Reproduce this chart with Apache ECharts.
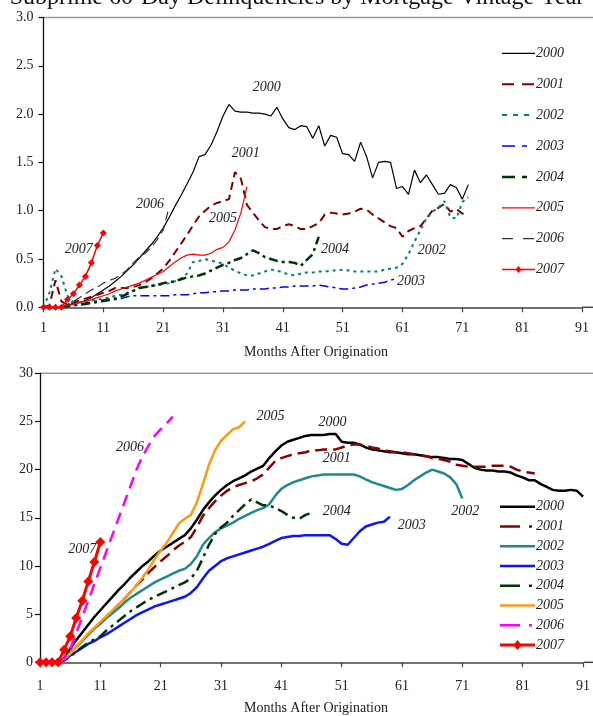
<!DOCTYPE html>
<html>
<head>
<meta charset="utf-8">
<script src="https://cdn.jsdelivr.net/npm/echarts@6/dist/echarts.min.js"></script>
<style>
html,body{margin:0;padding:0;background:#fff;width:593px;height:716px;overflow:hidden;}
#top{position:absolute;left:0;top:0;width:593px;height:360px;}
#bot{position:absolute;left:0;top:360px;width:593px;height:356px;}
</style>
</head>
<body>
<div id="top"></div>
<div id="bot"></div>
<script>
// ---------- data ----------
const TITLE = 'Subprime 60-Day Delinquencies by Mortgage Vintage Year';
const X_NAME = 'Months After Origination';
const YEARS = ['2000','2001','2002','2003','2004','2005','2006','2007'];

// top chart (values start at the given month)
const TOP_2000_START = 4;
const TOP_2000 = [0,0.02,0.04,0.05,0.07,0.10,0.14,0.18,0.22,0.27,0.32,0.38,0.44,0.51,0.58,0.65,0.73,0.82,0.93,1.05,1.16,1.28,1.40,1.56,1.58,1.68,1.82,1.98,2.10,2.03,2.02,2.02,2.01,2.01,2.00,1.98,2.07,1.95,1.86,1.84,1.88,1.87,1.75,1.88,1.67,1.78,1.76,1.59,1.58,1.51,1.71,1.56,1.34,1.50,1.51,1.50,1.23,1.25,1.17,1.42,1.29,1.37,1.27,1.17,1.18,1.27,1.24,1.12,1.27];
const TOP_2001_START = 1;
const TOP_2001 = [0,0.02,0.28,0.06,0.03,0.05,0.07,0.09,0.11,0.13,0.15,0.17,0.20,0.20,0.20,0.21,0.23,0.26,0.30,0.35,0.40,0.48,0.57,0.66,0.75,0.85,0.94,1.00,1.05,1.08,1.10,1.12,1.40,1.33,1.06,0.98,0.90,0.83,0.81,0.81,0.84,0.86,0.84,0.81,0.81,0.84,0.87,0.96,0.98,0.97,0.96,0.97,0.99,1.02,1.01,0.96,0.92,0.88,0.84,0.82,0.73,0.79,0.82,0.84,0.92,1.00,1.03,1.07,0.99,1.02,0.97,0.96];
const TOP_2002_START = 1;
const TOP_2002 = [0,0.15,0.40,0.32,0.12,0.05,0.05,0.06,0.07,0.08,0.09,0.10,0.12,0.13,0.15,0.17,0.20,0.21,0.22,0.23,0.24,0.25,0.27,0.30,0.35,0.47,0.48,0.50,0.48,0.47,0.45,0.41,0.38,0.35,0.33,0.33,0.35,0.37,0.39,0.38,0.36,0.34,0.33,0.35,0.36,0.36,0.37,0.37,0.38,0.38,0.39,0.38,0.37,0.37,0.37,0.37,0.37,0.39,0.40,0.41,0.45,0.55,0.68,0.80,0.92,0.99,1.03,1.10,0.93,0.92,1.09,1.14];
const TOP_2003_START = 4;
const TOP_2003 = [0,0.01,0.02,0.02,0.03,0.04,0.05,0.06,0.07,0.08,0.09,0.11,0.12,0.12,0.12,0.12,0.12,0.12,0.12,0.13,0.13,0.13,0.14,0.15,0.15,0.16,0.16,0.17,0.17,0.18,0.18,0.18,0.19,0.19,0.19,0.20,0.20,0.21,0.21,0.22,0.22,0.22,0.22,0.23,0.22,0.21,0.20,0.19,0.19,0.20,0.21,0.23,0.24,0.25,0.26,0.28,0.30];
const TOP_2004_START = 4;
const TOP_2004 = [0,0.01,0.02,0.03,0.04,0.05,0.06,0.07,0.08,0.09,0.11,0.14,0.17,0.20,0.21,0.22,0.23,0.25,0.26,0.27,0.29,0.31,0.32,0.33,0.35,0.38,0.41,0.44,0.46,0.49,0.51,0.55,0.59,0.56,0.52,0.50,0.48,0.47,0.47,0.46,0.43,0.49,0.55,0.73];
const TOP_2005_START = 4;
const TOP_2005 = [0,0.02,0.03,0.05,0.06,0.08,0.10,0.12,0.14,0.17,0.19,0.21,0.23,0.25,0.28,0.31,0.34,0.37,0.42,0.47,0.51,0.54,0.55,0.54,0.54,0.56,0.60,0.62,0.68,0.80,0.98,1.25];
const TOP_2006_START = 4;
const TOP_2006 = [0,0.03,0.06,0.10,0.14,0.18,0.21,0.25,0.28,0.30,0.34,0.39,0.46,0.52,0.56,0.62,0.70,0.80,1.04];
const TOP_2007_START = 1;
const TOP_2007 = [0,0,0,0,0.08,0.14,0.23,0.32,0.46,0.64,0.77];
// top chart in-plot labels: month, value
const TOP_LABEL_MONTH = [38.3,34.8,65.9,62.4,49.7,31.0,18.8,6.9];
const TOP_LABEL_VALUE = [2.28,1.59,0.59,0.265,0.60,0.92,1.07,0.60];

// bottom chart
const BOT_2000_START = 4;
const BOT_2000 = [0,0.4,1.4,2.3,3.1,3.9,4.7,5.4,6.1,6.8,7.5,8.1,8.8,9.4,10.0,10.5,11.1,11.6,12.0,12.4,12.8,13.2,13.9,14.8,15.8,16.6,17.3,17.9,18.4,18.8,19.1,19.4,19.8,20.1,20.4,21.2,21.9,22.5,22.9,23.1,23.3,23.5,23.6,23.6,23.6,23.7,23.7,22.9,22.8,22.8,22.6,22.3,22.1,22.0,21.9,21.8,21.8,21.7,21.6,21.6,21.5,21.4,21.3,21.3,21.2,21.1,21.1,21.0,20.6,20.2,20.0,19.9,19.9,19.8,19.8,19.7,19.4,19.2,18.9,18.9,18.5,18.2,17.9,17.8,17.8,17.9,17.8,17.2];
const BOT_2001_START = 4;
const BOT_2001 = [0,0.4,1.0,1.6,2.2,2.9,3.5,4.1,4.7,5.3,6.0,6.6,7.3,8.0,8.6,9.3,9.9,10.5,11.0,11.6,12.1,12.5,13.0,14.0,15.2,16.0,16.7,17.3,17.8,18.2,18.4,18.6,18.8,19.1,19.5,20.2,20.9,21.2,21.4,21.6,21.7,21.8,22.0,22.0,22.1,22.1,22.1,22.3,22.5,22.6,22.6,22.5,22.3,22.2,22.0,21.9,21.8,21.8,21.7,21.6,21.5,21.4,21.2,21.1,21.0,20.8,20.5,20.4,20.3,20.3,20.3,20.3,20.4,20.4,20.4,20.3,20.0,19.8,19.7,19.6];
const BOT_2002_START = 4;
const BOT_2002 = [0,0.3,1.0,1.6,2.2,2.9,3.5,4.0,4.6,5.1,5.6,6.2,6.7,7.1,7.5,7.9,8.3,8.6,8.9,9.2,9.5,9.7,10.2,11.0,12.2,12.9,13.5,13.9,14.2,14.5,14.9,15.2,15.5,15.8,16.0,16.4,17.3,18.0,18.4,18.7,18.9,19.1,19.3,19.4,19.5,19.5,19.5,19.5,19.5,19.5,19.3,19.0,18.7,18.5,18.3,18.1,17.9,18.0,18.4,18.9,19.3,19.7,20.0,19.8,19.6,19.2,18.5,17.0];
const BOT_2003_START = 4;
const BOT_2003 = [0,0.2,0.7,1.1,1.5,1.9,2.2,2.6,2.9,3.3,3.7,4.1,4.5,4.9,5.2,5.5,5.8,6.0,6.2,6.4,6.6,6.8,7.2,7.8,8.7,9.5,10.0,10.5,10.8,11.0,11.2,11.4,11.6,11.8,12.0,12.3,12.6,12.9,13.0,13.1,13.1,13.2,13.2,13.2,13.2,13.2,12.8,12.3,12.2,12.9,13.6,14.1,14.3,14.5,14.6,15.1];
const BOT_2004_START = 4;
const BOT_2004 = [0,0.2,0.6,1.1,1.6,2.0,2.4,2.7,3.3,3.8,4.3,4.8,5.3,5.7,6.1,6.5,6.8,7.1,7.4,7.7,8.0,8.3,8.7,9.5,10.8,12.2,13.3,14.0,14.5,15.2,15.8,16.4,16.9,16.6,16.3,16.3,16.0,15.7,15.3,15.0,14.9,15.3,15.5];
const BOT_2005_START = 4;
const BOT_2005 = [0,0.3,0.9,1.6,2.3,3.0,3.6,4.2,4.8,5.4,6.0,6.6,7.3,8.0,8.8,9.7,10.7,11.6,12.4,13.4,14.4,14.9,15.3,16.6,18.5,20.5,22.0,23.0,23.6,24.2,24.4,25.0];
const BOT_2006_START = 4;
const BOT_2006 = [0,0.3,1.4,3.0,4.7,6.4,8.1,9.8,11.5,13.2,14.9,16.6,18.3,20.0,21.4,22.5,23.5,24.2,24.8,25.5];
const BOT_2007_START = 1;
const BOT_2007 = [0,0,0,0,1.3,2.7,4.6,6.4,8.4,10.4,12.5];
const BOT_LABEL_MONTH = [49.5,50.2,71.5,62.6,50.2,39.2,15.9,8.0];
const BOT_LABEL_VALUE = [24.9,21.2,15.7,14.25,15.7,25.5,22.3,11.7];

const X_MIN = 1, X_MAX = 91, X_STEP = 10;

// ---------- build ----------
function pairs(start, vals){ return vals.map((v,i)=>[start+i, v]); }
const SERIF = '"Liberation Serif","Times New Roman",serif';
const TOP_DATA = [
  pairs(TOP_2000_START, TOP_2000), pairs(TOP_2001_START, TOP_2001), pairs(TOP_2002_START, TOP_2002),
  pairs(TOP_2003_START, TOP_2003), pairs(TOP_2004_START, TOP_2004), pairs(TOP_2005_START, TOP_2005),
  pairs(TOP_2006_START, TOP_2006), pairs(TOP_2007_START, TOP_2007)];
const BOT_DATA = [
  pairs(BOT_2000_START, BOT_2000), pairs(BOT_2001_START, BOT_2001), pairs(BOT_2002_START, BOT_2002),
  pairs(BOT_2003_START, BOT_2003), pairs(BOT_2004_START, BOT_2004), pairs(BOT_2005_START, BOT_2005),
  pairs(BOT_2006_START, BOT_2006), pairs(BOT_2007_START, BOT_2007)];

const TOP_STYLE = [
  {color:'#000000', width:1.2, type:'solid', leg:null},
  {color:'#800000', width:2, type:[8,5], leg:[12,8]},
  {color:'#008080', width:2, type:[3,4], leg:[5,6]},
  {color:'#0000ff', width:1.5, type:[9,4,3,4], leg:[13,7,5,20]},
  {color:'#003300', width:2.5, type:[9,4,3,4], leg:[13,7,5,20]},
  {color:'#ff0000', width:1.2, type:'solid', leg:null},
  {color:'#333333', width:1.2, type:[9,5], leg:[11,10]},
  {color:'#ff0000', width:1.5, type:'solid', leg:null, symbol:'diamond', symbolSize:7}
];
const BOT_STYLE = [
  {color:'#000000', width:2.5, type:'solid', leg:null},
  {color:'#8b0000', width:2.5, type:[12,6], leg:[20,9,3,10]},
  {color:'#1f8a8a', width:2.5, type:'solid', leg:null},
  {color:'#0a14ff', width:2.5, type:'solid', leg:null},
  {color:'#003300', width:2.5, type:[11,5,3,5], leg:[20,9,3,10]},
  {color:'#ff9a10', width:2.5, type:'solid', leg:null},
  {color:'#ff00ff', width:2.5, type:[12,7], leg:[20,9,3,10]},
  {color:'#ff0000', width:3, type:'solid', leg:null, symbol:'diamond', symbolSize:10}
];

function makeSeries(data, styles){
  return data.map((d,i)=>{
    const s = styles[i];
    return {
      name: YEARS[i], type:'line', data:d,
      symbol: s.symbol || 'none', symbolSize: s.symbolSize || 0, showSymbol: !!s.symbol,
      lineStyle:{color:s.color, width:s.width, type:s.type},
      itemStyle:{color:s.color},
      z: i===7 ? 5 : 2,
      animation:false, silent:true
    };
  });
}

function axes(gridCfg, yMax, yStep, yFmt, yMargin, xMargin){
  return {
    grid: gridCfg,
    xAxis: {type:'value', min:X_MIN, max:X_MAX, interval:X_STEP,
      axisLine:{show:true, lineStyle:{color:'#444', width:1.5}},
      axisTick:{show:true, length:5, lineStyle:{color:'#444', width:1.2}},
      axisLabel:{margin:xMargin, fontFamily:SERIF, fontSize:14, color:'#222'},
      splitLine:{show:false}},
    yAxis: {type:'value', min:0, max:yMax, interval:yStep,
      axisLine:{show:true, lineStyle:{color:'#111', width:1.3}},
      axisTick:{show:true, length:5, lineStyle:{color:'#111', width:1.2}},
      axisLabel:{margin:yMargin, fontFamily:SERIF, fontSize:14, color:'#222', formatter:yFmt},
      splitLine:{show:false}}
  };
}

function legendEls(styles, x0, y0, dy, len){
  const els = [];
  styles.forEach((s,i)=>{
    const y = y0 + dy*i;
    els.push({type:'line', silent:true, shape:{x1:x0, y1:y, x2:x0+len, y2:y},
      style:{stroke:s.color, lineWidth:s.width, lineDash:s.leg || null}});
    if (s.symbol) {
      const r = s.symbolSize/2, cx = x0+len/2;
      els.push({type:'polygon', silent:true, shape:{points:[[cx,y-r],[cx+r*0.8,y],[cx,y+r],[cx-r*0.8,y]]},
        style:{fill:s.color}});
    }
    els.push({type:'text', x:x0+len+1, y:y, silent:true,
      style:{text:YEARS[i], font:'italic 14px '+SERIF, fill:'#222', align:'left', verticalAlign:'middle'}});
  });
  return els;
}

function addLabels(chart, months, values, extra){
  const els = [];
  months.forEach((m,i)=>{
    const p = chart.convertToPixel({xAxisIndex:0, yAxisIndex:0}, [m, values[i]]);
    els.push({type:'text', x:p[0], y:p[1], silent:true,
      style:{text:YEARS[i], font:'italic 14px '+SERIF, fill:'#222', align:'center', verticalAlign:'middle'}});
  });
  chart.setOption({graphic:{elements: extra.concat(els)}});
}

// top chart
const topChart = echarts.init(document.getElementById('top'), null, {renderer:'canvas'});
const topGrid = {left:43.5, top:17.5, width:538.5, height:289.8};
topChart.setOption(Object.assign({animation:false,
  series: makeSeries(TOP_DATA, TOP_STYLE)
}, axes(topGrid, 3, 0.5, v=>v.toFixed(1), 10, 14)));
addLabels(topChart, TOP_LABEL_MONTH, TOP_LABEL_VALUE, [
  {type:'text', x:297, y:10, silent:true, style:{text:TITLE, font:'24px '+SERIF, fill:'#111', align:'center', verticalAlign:'bottom'}},
  {type:'line', silent:true, shape:{x1:43, y1:17.5, x2:593, y2:17.5}, style:{stroke:'#999', lineWidth:1.5}},
  {type:'line', silent:true, shape:{x1:582, y1:307.3, x2:593, y2:307.3}, style:{stroke:'#444', lineWidth:1.5}},
  {type:'text', x:316, y:352, silent:true, style:{text:X_NAME, font:'14px '+SERIF, fill:'#222', align:'center', verticalAlign:'middle'}}
].concat(legendEls(TOP_STYLE, 502, 53.3, 30.9, 33)));

// bottom chart
const botChart = echarts.init(document.getElementById('bot'), null, {renderer:'canvas'});
const botGrid = {left:40, top:13.3, width:544, height:289};
botChart.setOption(Object.assign({animation:false,
  series: makeSeries(BOT_DATA, BOT_STYLE)
}, axes(botGrid, 30, 5, v=>String(v), 7, 17)));
addLabels(botChart, BOT_LABEL_MONTH, BOT_LABEL_VALUE, [
  {type:'line', silent:true, shape:{x1:40, y1:13.3, x2:593, y2:13.3}, style:{stroke:'#999', lineWidth:1.5}},
  {type:'line', silent:true, shape:{x1:584, y1:302.3, x2:593, y2:302.3}, style:{stroke:'#444', lineWidth:1.5}},
  {type:'text', x:316, y:348, silent:true, style:{text:X_NAME, font:'14px '+SERIF, fill:'#222', align:'center', verticalAlign:'middle'}}
].concat(legendEls(BOT_STYLE, 500, 146.7, 19.75, 35)));
</script>
</body>
</html>
